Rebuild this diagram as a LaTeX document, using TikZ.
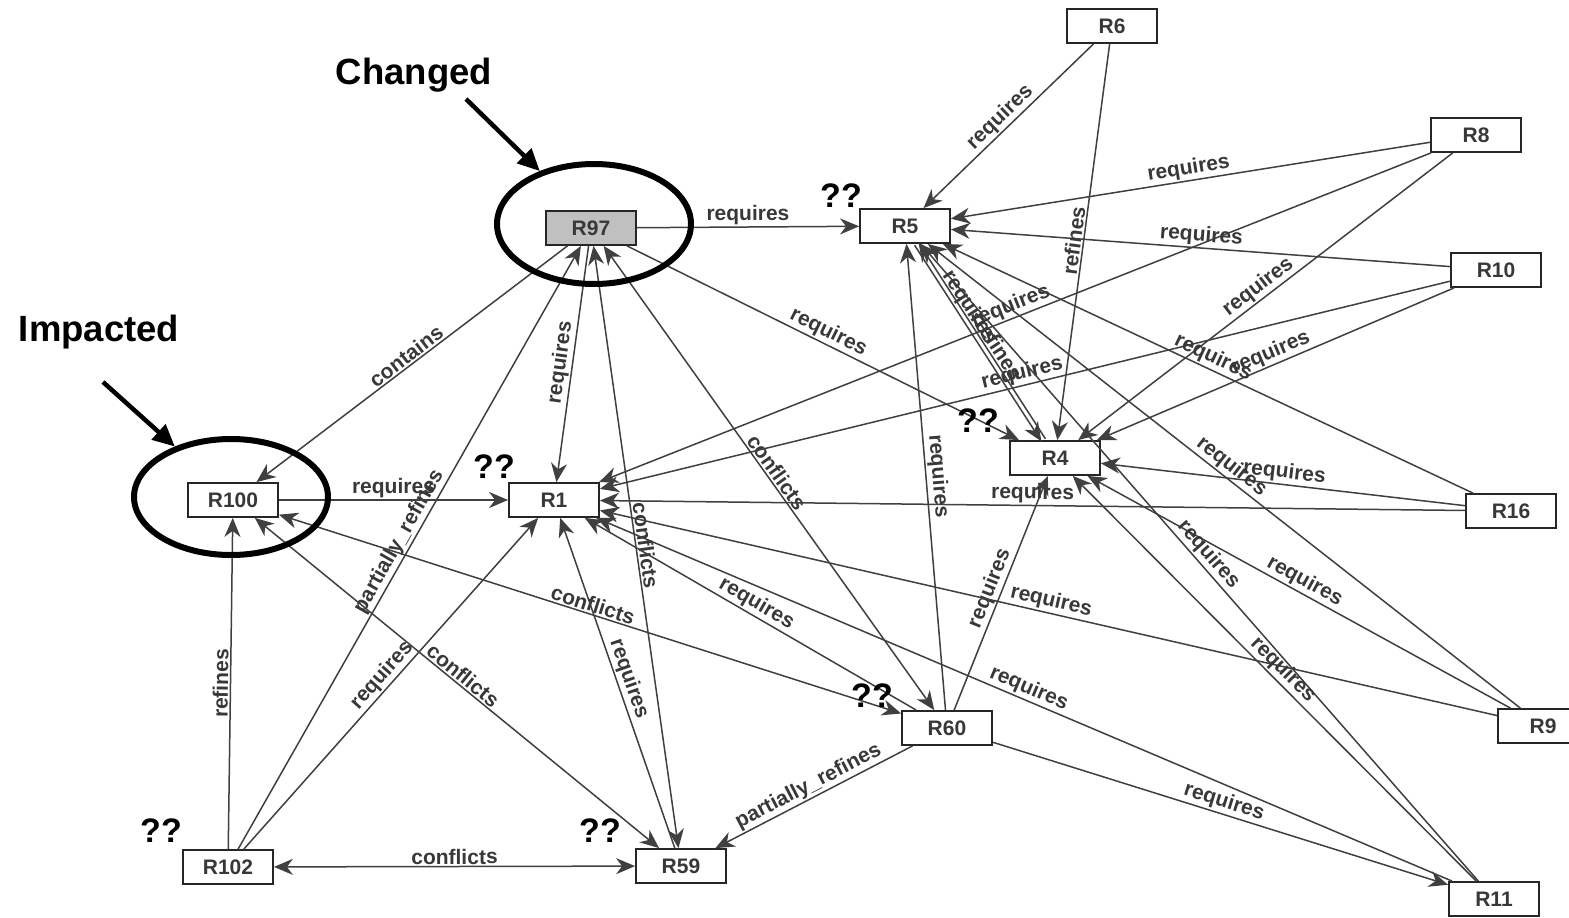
\documentclass[tikz,border=0pt]{standalone}
\usepackage{fontspec}
\setmainfont{Liberation Sans}
\usetikzlibrary{arrows.meta,shapes.geometric}

% fonts for boxes, edge labels, markers and captions
\newcommand{\boxfnt}{\fontsize{21}{24}\selectfont\bfseries}
\newcommand{\lblfnt}{\fontsize{21}{24}\selectfont\bfseries}
\newcommand{\qfnt}{\fontsize{34}{38}\selectfont\bfseries}
\newcommand{\capfnt}{\fontsize{36.5}{40}\selectfont\bfseries}

\definecolor{edgegray}{HTML}{404040}
\definecolor{textgray}{HTML}{383838}
\definecolor{selgray}{HTML}{C0C0C0}

\begin{document}
\begin{tikzpicture}[x=1pt,y=-1pt,
  reqbox/.style={draw=black!85, line width=1.8pt, fill=white,
    minimum width=90pt, minimum height=34pt, inner sep=0pt,
    font=\boxfnt, text=textgray},
  link/.style={draw=edgegray, line width=1.5pt},
  toarrow/.style={-{Stealth[length=19pt,width=16pt,inset=6pt]}},
  botharrow/.style={{Stealth[length=19pt,width=16pt,inset=6pt]}-{Stealth[length=19pt,width=16pt,inset=6pt]}},
  lbl/.style={midway, sloped, above, inner sep=1.5pt, font=\lblfnt, text=textgray},
  qmark/.style={font=\qfnt, text=black, inner sep=0pt},
  caption/.style={font=\capfnt, text=black, inner sep=0pt},
  ring/.style={ellipse, draw=black, line width=6pt, inner sep=0pt},
  pointer/.style={draw=black, line width=4.5pt, -{Triangle[length=22pt,width=20pt]}}
]
\useasboundingbox (0,0) rectangle (1569,918);
\fill[white] (0,0) rectangle (1569,918);
\clip (0,0) rectangle (1569,918);

% requirement boxes
\node[reqbox, fill=selgray] (r97) at (591,228) {R97};
\node[reqbox] (r5)   at (905,226)  {R5};
\node[reqbox] (r6)   at (1112,26)  {R6};
\node[reqbox] (r8)   at (1476,135) {R8};
\node[reqbox] (r10)  at (1496,270) {R10};
\node[reqbox] (r4)   at (1055,458) {R4};
\node[reqbox] (r100) at (233,500)  {R100};
\node[reqbox] (r1)   at (554,500)  {R1};
\node[reqbox] (r16)  at (1511,511) {R16};
\node[reqbox] (r60)  at (947,728)  {R60};
\node[reqbox] (r9)   at (1543,726) {R9};
\node[reqbox] (r11)  at (1494,899) {R11};
\node[reqbox] (r102) at (228,867)  {R102};
\node[reqbox] (r59)  at (681,866)  {R59};

% relations of R97
\draw[link,toarrow] (r97) -- node[lbl]{requires} (r5);
\draw[link,toarrow] (r97) -- node[lbl]{contains} (r100);
\draw[link,toarrow] (r97) -- node[lbl]{requires} (r1);
\draw[link,toarrow] (r97) -- node[lbl]{requires} (r4);
\draw[link,botharrow] (r97) -- node[lbl]{conflicts} (r59);
\draw[link,botharrow] (r97) -- node[lbl]{conflicts} (r60);

% relations of R102 and R100
\draw[link,toarrow] (r102) -- node[lbl]{partially\_refines} (r97);
\draw[link,toarrow] (r102) -- node[lbl]{refines} (r100);
\draw[link,toarrow] (r102) -- node[lbl]{requires} (r1);
\draw[link,botharrow] (r102) -- node[lbl]{conflicts} (r59);
\draw[link,toarrow] (r100) -- node[lbl]{requires} (r1);
\draw[link,botharrow] (r100) -- node[lbl]{conflicts} (r59);
\draw[link,botharrow] (r100) -- node[lbl]{conflicts} (r60);

% relations of R59 and R60
\draw[link,toarrow] (r59) -- node[lbl]{requires} (r1);
\draw[link,toarrow] (r60) -- node[lbl]{partially\_refines} (r59);
\draw[link,toarrow] (r60) -- node[lbl]{requires} (r1);
\draw[link,toarrow] (r60) -- node[lbl]{requires} (r5);
\draw[link,toarrow] (r60) -- node[lbl]{requires} (r4);
\draw[link,toarrow] (r60) -- node[lbl]{requires} (r11);

% relations from the right-hand requirements
\draw[link,toarrow] (r6) -- node[lbl]{requires} (r5);
\draw[link,toarrow] (r6) -- node[lbl]{refines} (r4);
\draw[link,toarrow] (r8) -- node[lbl]{requires} (r5);
\draw[link,toarrow] (r8) -- node[lbl]{requires} (r1);
\draw[link,toarrow] (r8) -- node[lbl]{requires} (r4);
\draw[link,toarrow] (r10) -- node[lbl]{requires} (r5);
\draw[link,toarrow] (r10) -- node[lbl]{requires} (r1);
\draw[link,toarrow] (r10) -- node[lbl]{requires} (r4);
\draw[link,toarrow] (r16) -- node[lbl]{requires} (r5);
\draw[link,toarrow] (r16) -- node[lbl]{requires} (r4);
\draw[link,toarrow] (r16) -- node[lbl]{requires} (r1);
\draw[link,toarrow] (r9) -- node[lbl]{requires} (r5);
\draw[link,toarrow] (r9) -- node[lbl]{requires} (r4);
\draw[link,toarrow] (r9) -- node[lbl]{requires} (r1);
\draw[link,toarrow] (r11) -- node[lbl]{requires} (r5);
\draw[link,toarrow] (r11) -- node[lbl]{requires} (r4);
\draw[link,toarrow] (r11) -- node[lbl]{requires} (r1);

% the pair of relations between R5 and R4
\draw[link,toarrow,transform canvas={xshift=-2pt,yshift=-1.3pt}] (r5) -- node[lbl,pos=0.35]{requires} (r4);
\draw[link,toarrow,transform canvas={xshift=2pt,yshift=1.3pt}] (r4) -- node[lbl,pos=0.43]{refines} (r5);

% question marks beside the uncertain requirements
\node[qmark] (q5)   at (841,196) {??};
\node[qmark] (q4)   at (978,421) {??};
\node[qmark] (q1)   at (494,467) {??};
\node[qmark] (q60)  at (872,696) {??};
\node[qmark] (q102) at (161,831) {??};
\node[qmark] (q59)  at (600,831) {??};

% highlighted requirements and their captions
\node[ring, minimum width=194pt, minimum height=120pt] (chg) at (594,224) {};
\node[ring, minimum width=194pt, minimum height=116pt] (imp) at (231,497) {};
\node[caption] (chgtext) at (414,75) {Changed};
\node[caption] (imptext) at (99,332) {Impacted};
\coordinate (chgstart) at (466,99);
\coordinate (impstart) at (103,382);
\draw[pointer] (chgstart) -- (chg);
\draw[pointer] (impstart) -- (imp);
\end{tikzpicture}
\end{document}
